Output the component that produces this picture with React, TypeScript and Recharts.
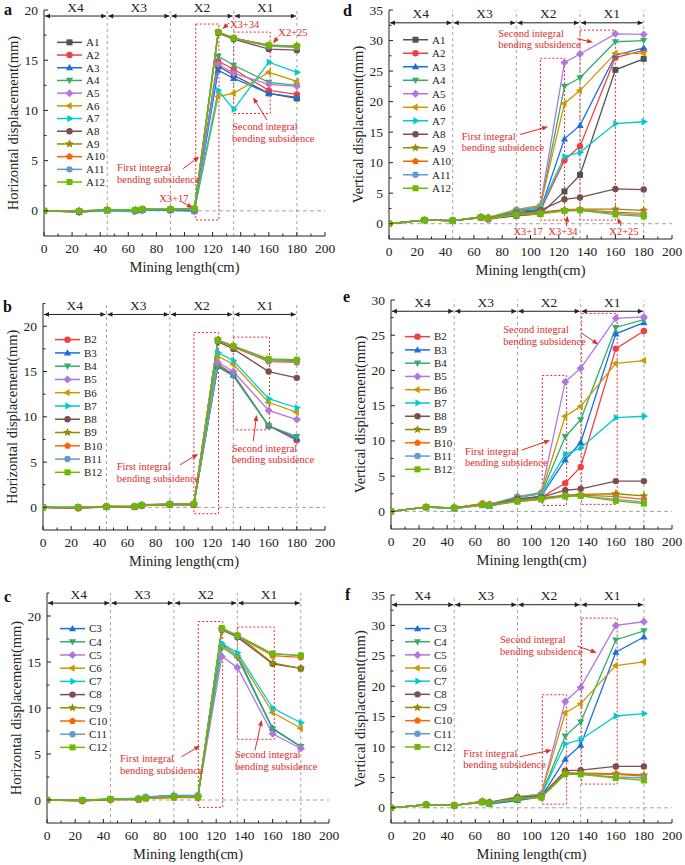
import React from "react";
import {
  LineChart,
  Line,
  XAxis,
  YAxis,
  ReferenceLine,
  ReferenceArea,
  ReferenceDot,
  Legend,
} from "recharts";

// mining length at each measurement (cm)
const miningLength = [0, 25, 45, 65, 70, 90, 107, 124, 135, 160, 180];
const zoneBounds = [0, 45, 90, 135, 180];
const zoneLabels = ["X4", "X3", "X2", "X1"];
const xTicks = [0, 10, 20, 30, 40, 50, 60, 70, 80, 90, 100, 110, 120, 130, 140, 150, 160, 170, 180, 190, 200];

const namesA = ["A1", "A2", "A3", "A4", "A5", "A6", "A7", "A8", "A9", "A10", "A11", "A12"];
const namesB = ["B2", "B3", "B4", "B5", "B6", "B7", "B8", "B9", "B10", "B11", "B12"];
const namesC = ["C3", "C4", "C5", "C6", "C7", "C8", "C9", "C10", "C11", "C12"];

// horizontal displacement, line A (mm)
const horizA: Record<string, number[]> = {
  A1: [0, -0.1, 0.05, 0.05, 0.1, 0.1, 0.05, 14.4, 13.5, 11.7, 11.2],
  A2: [0, -0.1, 0.05, 0.05, 0.1, 0.1, 0.05, 14.9, 14.1, 12.0, 11.6],
  A3: [0, -0.1, 0.05, 0.0, 0.1, 0.1, 0.0, 14.0, 13.2, 11.7, 11.3],
  A4: [0, -0.05, 0.05, 0.05, 0.1, 0.1, 0.05, 15.4, 14.5, 12.8, 12.5],
  A5: [0, -0.15, 0.05, 0.0, 0.05, 0.05, -0.05, 14.6, 13.7, 12.6, 12.4],
  A6: [0, -0.1, 0.05, 0.0, 0.1, 0.1, 0.05, 11.4, 11.7, 13.8, 12.9],
  A7: [0, -0.05, 0.0, -0.1, 0.05, 0.05, 0.0, 12.0, 10.1, 14.8, 13.8],
  A8: [0, -0.05, 0.1, 0.05, 0.15, 0.1, 0.1, 17.7, 17.1, 16.1, 16.0],
  A9: [0, 0, 0.1, 0.1, 0.15, 0.15, 0.2, 17.8, 17.2, 16.5, 16.4],
  A10: [0, 0, 0.1, 0.05, 0.15, 0.15, 0.15, 17.8, 17.2, 16.4, 16.3],
  A11: [0, 0, 0.1, 0.05, 0.15, 0.15, 0.15, 17.8, 17.2, 16.4, 16.3],
  A12: [0, 0, 0.1, 0.1, 0.2, 0.2, 0.25, 17.8, 17.2, 16.5, 16.4],
};

// vertical displacement, line A (mm)
const vertA: Record<string, number[]> = {
  A1: [0, 0.6, 0.5, 1.0, 0.8, 1.3, 1.6, 5.3, 8.0, 25.2, 27.0],
  A2: [0, 0.6, 0.5, 1.0, 0.7, 1.6, 2.2, 10.4, 12.7, 27.2, 28.4],
  A3: [0, 0.6, 0.5, 1.0, 0.9, 2.1, 2.3, 13.9, 16.1, 27.6, 28.8],
  A4: [0, 0.6, 0.5, 1.1, 0.9, 2.2, 2.8, 22.5, 23.9, 29.8, 30.0],
  A5: [0, 0.6, 0.5, 1.1, 1.0, 2.3, 3.0, 26.4, 27.8, 31.1, 31.0],
  A6: [0, 0.6, 0.5, 1.1, 1.0, 2.3, 2.9, 19.7, 21.8, 27.9, 27.9],
  A7: [0, 0.6, 0.5, 1.0, 0.9, 2.1, 2.6, 11.0, 11.7, 16.4, 16.7],
  A8: [0, 0.6, 0.5, 1.0, 0.9, 1.8, 2.2, 4.0, 4.3, 5.7, 5.6],
  A9: [0, 0.6, 0.5, 1.1, 1.0, 1.7, 1.9, 2.3, 2.4, 2.4, 2.2],
  A10: [0, 0.6, 0.5, 1.0, 0.9, 1.6, 1.8, 2.2, 2.3, 1.9, 1.7],
  A11: [0, 0.6, 0.5, 1.0, 0.9, 1.5, 1.7, 2.1, 2.2, 1.7, 1.4],
  A12: [0, 0.6, 0.5, 1.0, 0.9, 1.4, 1.6, 2.1, 2.2, 1.5, 1.2],
};

// horizontal displacement, line B (mm)
const horizB: Record<string, number[]> = {
  B2: [0, -0.1, 0.05, 0.05, 0.2, 0.3, 0.3, 15.8, 14.7, 9.0, 7.4],
  B3: [0, -0.05, 0.05, 0.05, 0.2, 0.3, 0.3, 15.6, 14.6, 9.0, 7.6],
  B4: [0, -0.05, 0.05, 0.05, 0.2, 0.3, 0.3, 15.5, 14.5, 9.0, 7.8],
  B5: [0, -0.1, 0.05, 0.05, 0.2, 0.3, 0.3, 16.0, 15.0, 10.7, 9.7],
  B6: [0, -0.05, 0.05, 0.05, 0.2, 0.3, 0.3, 16.7, 15.8, 11.6, 10.5],
  B7: [0, 0, 0.1, 0.1, 0.25, 0.35, 0.35, 17.1, 16.2, 12.0, 11.0],
  B8: [0, -0.05, 0.1, 0.05, 0.2, 0.3, 0.3, 18.3, 17.5, 15.0, 14.3],
  B9: [0, 0, 0.1, 0.1, 0.25, 0.35, 0.35, 18.5, 17.8, 16.3, 16.2],
  B10: [0, -0.05, 0.1, 0.05, 0.2, 0.3, 0.3, 18.4, 17.7, 16.1, 16.0],
  B11: [0, 0.05, 0.1, 0.1, 0.3, 0.4, 0.4, 18.4, 17.8, 16.2, 16.1],
  B12: [0, 0, 0.1, 0.1, 0.25, 0.35, 0.4, 18.5, 17.8, 16.4, 16.3],
};

// vertical displacement, line B (mm)
const vertB: Record<string, number[]> = {
  B2: [0, 0.6, 0.5, 1.0, 0.8, 1.5, 2.0, 4.0, 6.3, 23.1, 25.6],
  B3: [0, 0.6, 0.4, 0.9, 0.7, 1.7, 2.2, 7.3, 9.8, 25.2, 26.8],
  B4: [0, 0.6, 0.5, 1.0, 0.9, 2.0, 2.5, 10.6, 13.0, 26.1, 27.2],
  B5: [0, 0.6, 0.5, 1.1, 1.0, 2.1, 2.7, 18.4, 20.3, 27.4, 27.6],
  B6: [0, 0.6, 0.5, 1.1, 1.0, 2.0, 2.6, 13.5, 14.9, 21.0, 21.4],
  B7: [0, 0.6, 0.5, 1.0, 0.9, 2.0, 2.5, 8.1, 9.0, 13.3, 13.5],
  B8: [0, 0.6, 0.5, 1.0, 0.9, 1.8, 2.0, 3.0, 3.2, 4.3, 4.3],
  B9: [0, 0.6, 0.5, 1.0, 0.9, 1.6, 1.9, 2.3, 2.4, 2.5, 2.2],
  B10: [0, 0.6, 0.5, 1.1, 0.9, 1.5, 1.8, 2.2, 2.3, 2.1, 1.7],
  B11: [0, 0.6, 0.4, 0.9, 0.8, 1.4, 1.7, 2.2, 2.2, 1.7, 1.3],
  B12: [0, 0.6, 0.5, 0.9, 0.9, 1.4, 1.7, 2.1, 2.2, 1.5, 1.1],
};

// horizontal displacement, line C (mm)
const horizC: Record<string, number[]> = {
  C3: [0, -0.05, 0.1, 0.2, 0.35, 0.5, 0.5, 16.9, 15.7, 7.8, 5.8],
  C4: [0, -0.05, 0.1, 0.15, 0.3, 0.45, 0.45, 16.6, 15.5, 7.7, 5.8],
  C5: [0, -0.1, 0.05, 0.1, 0.25, 0.4, 0.4, 15.6, 14.4, 7.2, 5.6],
  C6: [0, -0.05, 0.1, 0.1, 0.25, 0.35, 0.35, 16.8, 15.7, 9.5, 7.8],
  C7: [0, -0.05, 0.1, 0.15, 0.3, 0.45, 0.45, 17.0, 16.0, 10.0, 8.4],
  C8: [0, -0.1, 0.05, 0.05, 0.2, 0.3, 0.3, 18.5, 17.7, 14.8, 14.3],
  C9: [0, -0.05, 0.1, 0.1, 0.2, 0.3, 0.3, 18.6, 17.9, 14.9, 14.3],
  C10: [0, -0.1, 0.05, 0.05, 0.15, 0.25, 0.25, 18.5, 17.8, 15.7, 15.5],
  C11: [0, 0, 0.1, 0.15, 0.3, 0.45, 0.45, 18.6, 17.8, 15.9, 15.7],
  C12: [0, 0, 0.1, 0.1, 0.2, 0.35, 0.35, 18.7, 17.9, 15.9, 15.7],
};

// vertical displacement, line C (mm)
const vertC: Record<string, number[]> = {
  C3: [0, 0.5, 0.4, 0.9, 0.6, 1.2, 1.8, 8.0, 10.3, 25.6, 28.1],
  C4: [0, 0.5, 0.4, 1.0, 0.8, 1.6, 2.1, 11.8, 14.1, 27.6, 29.1],
  C5: [0, 0.5, 0.4, 1.0, 0.9, 1.8, 2.3, 17.5, 19.8, 30.0, 30.6],
  C6: [0, 0.5, 0.4, 1.1, 0.9, 1.8, 2.2, 15.6, 17.1, 23.4, 24.0],
  C7: [0, 0.5, 0.4, 1.0, 0.8, 1.7, 2.1, 10.5, 11.2, 15.1, 15.5],
  C8: [0, 0.5, 0.4, 1.0, 0.9, 1.7, 1.9, 6.1, 6.2, 6.8, 6.8],
  C9: [0, 0.5, 0.4, 1.0, 0.9, 1.6, 1.8, 5.8, 5.7, 5.6, 5.4],
  C10: [0, 0.5, 0.4, 1.0, 0.8, 1.5, 1.8, 5.6, 5.6, 5.5, 5.2],
  C11: [0, 0.5, 0.4, 0.9, 0.8, 1.5, 1.7, 5.5, 5.5, 5.1, 4.9],
  C12: [0, 0.5, 0.4, 0.9, 0.7, 1.4, 1.7, 5.5, 5.5, 4.9, 4.5],
};

const SERIF = "'Liberation Serif', 'Times New Roman', serif";
const INK = "#222";
const RED = "#de2b2b";
const GRID = "#8c8c8c";
const palette = [
  "#515151", "#F14040", "#1A6FDF", "#37AD6B", "#B177DE", "#CC9900",
  "#00CBCC", "#7D4E4E", "#8E8E00", "#FB6501", "#6699CC", "#6FB802",
];
const markerKinds = [
  "square", "circle", "up", "down", "diamond", "left",
  "right", "circle", "star", "pentagon", "circle", "square",
];

const styleIndex = (name: string) => parseInt(name.slice(1), 10) - 1;

function polyPath(cx: number, cy: number, r: number, n: number, startDeg: number, inner?: number) {
  const pts: string[] = [];
  const count = inner ? n * 2 : n;
  for (let i = 0; i < count; i++) {
    const a = ((startDeg + (i * 360) / count) * Math.PI) / 180;
    const rr = inner && i % 2 === 1 ? r * inner : r;
    pts.push(`${(cx + rr * Math.cos(a)).toFixed(2)},${(cy + rr * Math.sin(a)).toFixed(2)}`);
  }
  return `M${pts.join("L")}Z`;
}

function Marker({ cx, cy, k }: { cx: number; cy: number; k: number }) {
  const c = palette[k];
  switch (markerKinds[k]) {
    case "square":
      return <rect x={cx - 3} y={cy - 3} width={6} height={6} fill={c} />;
    case "circle":
      return <circle cx={cx} cy={cy} r={3.2} fill={c} />;
    case "up":
      return <path d={polyPath(cx, cy + 0.5, 4.2, 3, -90)} fill={c} />;
    case "down":
      return <path d={polyPath(cx, cy - 0.5, 4.2, 3, 90)} fill={c} />;
    case "left":
      return <path d={polyPath(cx, cy, 4.2, 3, 180)} fill={c} />;
    case "right":
      return <path d={polyPath(cx, cy, 4.2, 3, 0)} fill={c} />;
    case "diamond":
      return <path d={polyPath(cx, cy, 4, 4, -90)} fill={c} />;
    case "pentagon":
      return <path d={polyPath(cx, cy, 3.6, 5, -90)} fill={c} />;
    case "star":
      return <path d={polyPath(cx, cy, 4.6, 5, -90, 0.45)} fill={c} />;
    default:
      return <circle cx={cx} cy={cy} r={3} fill={c} />;
  }
}

type Note = { x: number; y: number; lines: string[] };
type Arrow = { from: [number, number]; to: [number, number] };
type Box = { x1: number; x2: number; y1: number; y2: number };
type PanelSpec = {
  letter: string;
  letterAt: [number, number];
  left: number;
  top: number;
  width: number;
  height: number;
  x0: number;
  x200: number;
  yTop: number;
  yBot: number;
  domain: [number, number];
  yTitle: string;
  names: string[];
  values: Record<string, number[]>;
  zoneY: number;
  rects: Box[];
  notes: Note[];
  arrows: Arrow[];
  legendTop: number;
  legendStep: number;
  legendX: number;
};

const panels: PanelSpec[] = [
  {
    letter: "a", letterAt: [4, 15],
    left: 0, top: 0, width: 340, height: 285,
    x0: 44, x200: 325, yTop: 10, yBot: 236, domain: [-2.5, 20],
    yTitle: "Horizontal displacement(mm)", names: namesA, values: horizA, zoneY: 19.4,
    rects: [{ x1: 108, x2: 124.5, y1: -0.9, y2: 18.6 }, { x1: 135, x2: 161, y1: 9.7, y2: 17.8 }],
    notes: [
      { x: 52, y: 4.3, lines: ["First integral", "bending subsidence"] },
      { x: 133.8, y: 8.4, lines: ["Second integral", "bending subsidence"] },
      { x: 82, y: 1.2, lines: ["X3+17"] },
      { x: 132.4, y: 18.6, lines: ["X3+34"] },
      { x: 166.8, y: 17.75, lines: ["X2+25"] },
    ],
    arrows: [
      { from: [99, 4.2], to: [110.6, 5.4] },
      { from: [98, 0.9], to: [106, 0.3] },
      { from: [131.7, 18.7], to: [127, 18.1] },
      { from: [166.6, 17.3], to: [163, 16.7] },
      { from: [158.7, 9.05], to: [148.8, 11.3] },
    ],
    legendTop: 42, legendStep: 12.7, legendX: 57,
  },
  {
    letter: "d", letterAt: [343, 16],
    left: 340, top: 0, width: 345, height: 285,
    x0: 389, x200: 672, yTop: 10, yBot: 239, domain: [-2.5, 35],
    yTitle: "Vertical displacement(mm)", names: namesA, values: vertA, zoneY: 32.9,
    rects: [{ x1: 107, x2: 124, y1: 0.6, y2: 27.1 }, { x1: 135, x2: 160, y1: 0.6, y2: 31.7 }],
    notes: [
      { x: 77.2, y: 31.2, lines: ["Second integral", "bending subsidence"] },
      { x: 51.4, y: 14.3, lines: ["First integral", "bending subsidence"] },
      { x: 87.9, y: -1.3, lines: ["X3+17"] },
      { x: 112.6, y: -1.3, lines: ["X3+34"] },
      { x: 155.7, y: -1.3, lines: ["X2+25"] },
    ],
    arrows: [
      { from: [132.9, 30.3], to: [144.2, 29.7] },
      { from: [92.6, 14.6], to: [112.4, 15.9] },
      { from: [125.5, -0.4], to: [126, 1.3] },
      { from: [164, -0.4], to: [161.5, 1.0] },
    ],
    legendTop: 39.3, legendStep: 13.5, legendX: 403,
  },
  {
    letter: "b", letterAt: [3, 312],
    left: 0, top: 285, width: 340, height: 290,
    x0: 43, x200: 325, yTop: 303.6, yBot: 530, domain: [-2.5, 22.5],
    yTitle: "Horizontal displacement(mm)", names: namesB, values: horizB, zoneY: 21.3,
    rects: [{ x1: 107, x2: 124.5, y1: -0.7, y2: 19.3 }, { x1: 135, x2: 160.6, y1: 8.56, y2: 18.8 }],
    notes: [
      { x: 52.3, y: 4.5, lines: ["First integral", "bending subsidence"] },
      { x: 133.8, y: 6.55, lines: ["Second integral", "bending subsidence"] },
    ],
    arrows: [
      { from: [97.2, 4.7], to: [110.1, 5.9] },
      { from: [149.1, 7.3], to: [151.5, 10.2] },
    ],
    legendTop: 340, legendStep: 13.27, legendX: 55,
  },
  {
    letter: "e", letterAt: [343, 302],
    left: 340, top: 285, width: 345, height: 290,
    x0: 391, x200: 672, yTop: 300, yBot: 529, domain: [-2.5, 30],
    yTitle: "Vertical displacement(mm)", names: namesB, values: vertB, zoneY: 28.4,
    rects: [{ x1: 107.7, x2: 125, y1: 0.85, y2: 19.3 }, { x1: 135.7, x2: 161, y1: 1.0, y2: 28.1 }],
    notes: [
      { x: 79.9, y: 25.75, lines: ["Second integral", "bending subsidence"] },
      { x: 52.7, y: 8.5, lines: ["First integral", "bending subsidence"] },
    ],
    arrows: [
      { from: [135.7, 25.3], to: [147.5, 23.7] },
      { from: [93, 8.7], to: [113.2, 10.1] },
    ],
    legendTop: 336.7, legendStep: 13.27, legendX: 405,
  },
  {
    letter: "c", letterAt: [4, 602],
    left: 0, top: 575, width: 340, height: 290,
    x0: 47, x200: 329, yTop: 593, yBot: 823, domain: [-2.5, 22.5],
    yTitle: "Horizontal displacement(mm)", names: namesC, values: horizC, zoneY: 21.4,
    rects: [{ x1: 107.3, x2: 124.6, y1: -0.8, y2: 19.4 }, { x1: 135, x2: 161.2, y1: 6.6, y2: 18.8 }],
    notes: [
      { x: 51.8, y: 4.5, lines: ["First integral", "bending subsidence"] },
      { x: 133.3, y: 4.9, lines: ["Second integral", "bending subsidence"] },
    ],
    arrows: [
      { from: [95.5, 4.7], to: [108.5, 5.9] },
      { from: [147.5, 5.4], to: [152.3, 8.7] },
    ],
    legendTop: 628.3, legendStep: 13.2, legendX: 60,
  },
  {
    letter: "f", letterAt: [345, 600],
    left: 340, top: 575, width: 345, height: 290,
    x0: 391, x200: 672, yTop: 595, yBot: 823, domain: [-2.5, 35],
    yTitle: "Vertical displacement(mm)", names: namesC, values: vertC, zoneY: 33.4,
    rects: [{ x1: 107.7, x2: 125, y1: 0.6, y2: 18.6 }, { x1: 135.7, x2: 161, y1: 3.9, y2: 31.2 }],
    notes: [
      { x: 77.6, y: 27.6, lines: ["Second integral", "bending subsidence"] },
      { x: 51.5, y: 9.0, lines: ["First integral", "bending subsidence"] },
    ],
    arrows: [
      { from: [132.6, 26.6], to: [146.4, 25.5] },
      { from: [91.8, 8.4], to: [114.4, 9.5] },
    ],
    legendTop: 628.3, legendStep: 13.15, legendX: 405,
  },
];

function rowsFor(names: string[], values: Record<string, number[]>) {
  return miningLength.map((x, i) => {
    const r: Record<string, number> = { x };
    names.forEach((n) => (r[n] = values[n][i]));
    return r;
  });
}

const zoneShape = (label: string) => (p: any) => {
  const { x1, y1, x2 } = p;
  const a = x1 + 1;
  const b = x2 - 1;
  return (
    <g>
      <line x1={a} x2={b} y1={y1} y2={y1} stroke={INK} strokeWidth={1} />
      <path d={`M${a},${y1} l5,-2.4 l0,4.8 Z`} fill={INK} />
      <path d={`M${b},${y1} l-5,-2.4 l0,4.8 Z`} fill={INK} />
      <text x={(x1 + x2) / 2} y={y1 - 4.5} textAnchor="middle" fontSize={13.5} fontFamily={SERIF} fill={INK}>
        {label}
      </text>
    </g>
  );
};

const arrowShape = (p: any) => {
  const { x1, y1, x2, y2 } = p;
  const ang = Math.atan2(y2 - y1, x2 - x1);
  const bx = x2 - 6 * Math.cos(ang);
  const by = y2 - 6 * Math.sin(ang);
  const px = -Math.sin(ang) * 2.4;
  const py = Math.cos(ang) * 2.4;
  return (
    <g>
      <line x1={x1} y1={y1} x2={bx} y2={by} stroke={RED} strokeWidth={1} />
      <path d={`M${x2},${y2} L${bx + px},${by + py} L${bx - px},${by - py} Z`} fill={RED} />
    </g>
  );
};

const noteShape = (lines: string[]) => (p: any) => (
  <text x={p.cx} y={p.cy + 3.5} fontSize={10.5} fontFamily={SERIF} fill={RED}>
    {lines.map((t, i) => (
      <tspan key={t} x={p.cx} dy={i === 0 ? 0 : 11.5}>
        {t}
      </tspan>
    ))}
  </text>
);

function Panel({ s }: { s: PanelSpec }) {
  const axisX = s.x0 - s.left;
  const axisX2 = s.x200 - s.left;
  const axisY = s.yBot - s.top;
  const topY = s.yTop - s.top;
  const data = rowsFor(s.names, s.values);
  const yTicks: number[] = [];
  for (let v = 0; v <= s.domain[1] + 1e-9; v += 2.5) yTicks.push(v);

  return (
    <div style={{ position: "absolute", left: s.left, top: s.top }}>
      <LineChart
        width={s.width}
        height={s.height}
        data={data}
        margin={{ top: topY, right: s.width - axisX2, bottom: 0, left: 0 }}
      >
        <XAxis
          dataKey="x"
          type="number"
          domain={[0, 200]}
          ticks={xTicks}
          interval={0}
          allowDataOverflow
          height={s.height - axisY}
          tickLine={false}
          axisLine={{ stroke: INK }}
          tick={(p: any) => {
            const v = p.payload.value;
            const major = v % 20 === 0;
            return (
              <g>
                <line x1={p.x} x2={p.x} y1={axisY} y2={axisY - (major ? 4 : 2.5)} stroke={INK} />
                {major && (
                  <text x={p.x} y={axisY + 17} textAnchor="middle" fontSize={13.5} fontFamily={SERIF} fill={INK}>
                    {v}
                  </text>
                )}
              </g>
            );
          }}
          label={() => (
            <text x={(axisX + axisX2) / 2} y={axisY + 36} textAnchor="middle" fontSize={14.5} fontFamily={SERIF} fill={INK}>
              Mining length(cm)
            </text>
          )}
        />
        <YAxis
          type="number"
          domain={s.domain}
          ticks={yTicks}
          interval={0}
          allowDataOverflow
          width={axisX}
          tickLine={false}
          axisLine={{ stroke: INK }}
          tick={(p: any) => {
            const v = p.payload.value;
            const major = v % 5 === 0;
            return (
              <g>
                <line x1={axisX} x2={axisX + (major ? 4 : 2.5)} y1={p.y} y2={p.y} stroke={INK} />
                {major && (
                  <text x={axisX - 6} y={p.y + 4.5} textAnchor="end" fontSize={13.5} fontFamily={SERIF} fill={INK}>
                    {v}
                  </text>
                )}
              </g>
            );
          }}
          label={() => (
            <g>
              <text
                transform={`translate(${axisX - 31.5},${(topY + axisY) / 2}) rotate(-90)`}
                dy="0.35em"
                textAnchor="middle"
                fontSize={14.5}
                fontFamily={SERIF}
                fill={INK}
              >
                {s.yTitle}
              </text>
              <text
                x={s.letterAt[0] - s.left}
                y={s.letterAt[1] - s.top}
                fontSize={16}
                fontWeight="bold"
                fontFamily={SERIF}
                fill="#111"
              >
                {s.letter}
              </text>
            </g>
          )}
        />
        <ReferenceLine
          segment={[{ x: 0, y: 0 }, { x: 200, y: 0 }]}
          stroke={GRID}
          strokeDasharray="4 3"
          strokeWidth={0.8}
        />
        {zoneBounds.slice(1).map((b) => (
          <ReferenceLine key={`v${b}`} x={b} stroke={GRID} strokeDasharray="3 3" strokeWidth={0.8} />
        ))}
        {zoneLabels.map((lab, i) => (
          <ReferenceLine
            key={lab}
            segment={[
              { x: zoneBounds[i], y: s.zoneY },
              { x: zoneBounds[i + 1], y: s.zoneY },
            ]}
            shape={zoneShape(lab)}
          />
        ))}
        {s.rects.map((r, i) => (
          <ReferenceArea
            key={`r${i}`}
            x1={r.x1}
            x2={r.x2}
            y1={r.y1}
            y2={r.y2}
            fill="none"
            fillOpacity={0}
            stroke={RED}
            strokeDasharray="2 2"
            strokeWidth={1}
          />
        ))}
        {s.names.map((n) => {
          const k = styleIndex(n);
          return (
            <Line
              key={n}
              dataKey={n}
              type="linear"
              stroke={palette[k]}
              strokeWidth={1.3}
              isAnimationActive={false}
              dot={(p: any) => <Marker key={`${n}-${p.index}`} cx={p.cx} cy={p.cy} k={k} />}
              activeDot={false}
            />
          );
        })}
        {s.notes.map((nt, i) => (
          <ReferenceDot key={`n${i}`} x={nt.x} y={nt.y} r={0} shape={noteShape(nt.lines)} />
        ))}
        {s.arrows.map((a, i) => (
          <ReferenceLine
            key={`a${i}`}
            segment={[
              { x: a.from[0], y: a.from[1] },
              { x: a.to[0], y: a.to[1] },
            ]}
            shape={arrowShape}
          />
        ))}
        <Legend
          layout="vertical"
          align="center"
          verticalAlign="middle"
          wrapperStyle={{
            left: s.legendX - s.left,
            top: s.legendTop - s.top - s.legendStep / 2,
            width: 70,
          }}
          content={() => (
            <svg width={70} height={s.names.length * s.legendStep + 2} style={{ display: "block", overflow: "visible" }}>
              {s.names.map((n, i) => {
                const k = styleIndex(n);
                const y = i * s.legendStep + s.legendStep / 2;
                return (
                  <g key={n}>
                    <line x1={0} x2={25} y1={y} y2={y} stroke={palette[k]} strokeWidth={1.5} />
                    <Marker cx={12.5} cy={y} k={k} />
                    <text x={29} y={y + 3.8} fontSize={11} fontFamily={SERIF} fill={INK}>
                      {n}
                    </text>
                  </g>
                );
              })}
            </svg>
          )}
        />
      </LineChart>
    </div>
  );
}

export default function App() {
  return (
    <div
      style={{
        position: "absolute",
        left: 0,
        top: 0,
        width: 685,
        height: 865,
        background: "#fff",
        fontFamily: SERIF,
      }}
    >
      {panels.map((p) => (
        <Panel key={p.letter} s={p} />
      ))}
    </div>
  );
}
